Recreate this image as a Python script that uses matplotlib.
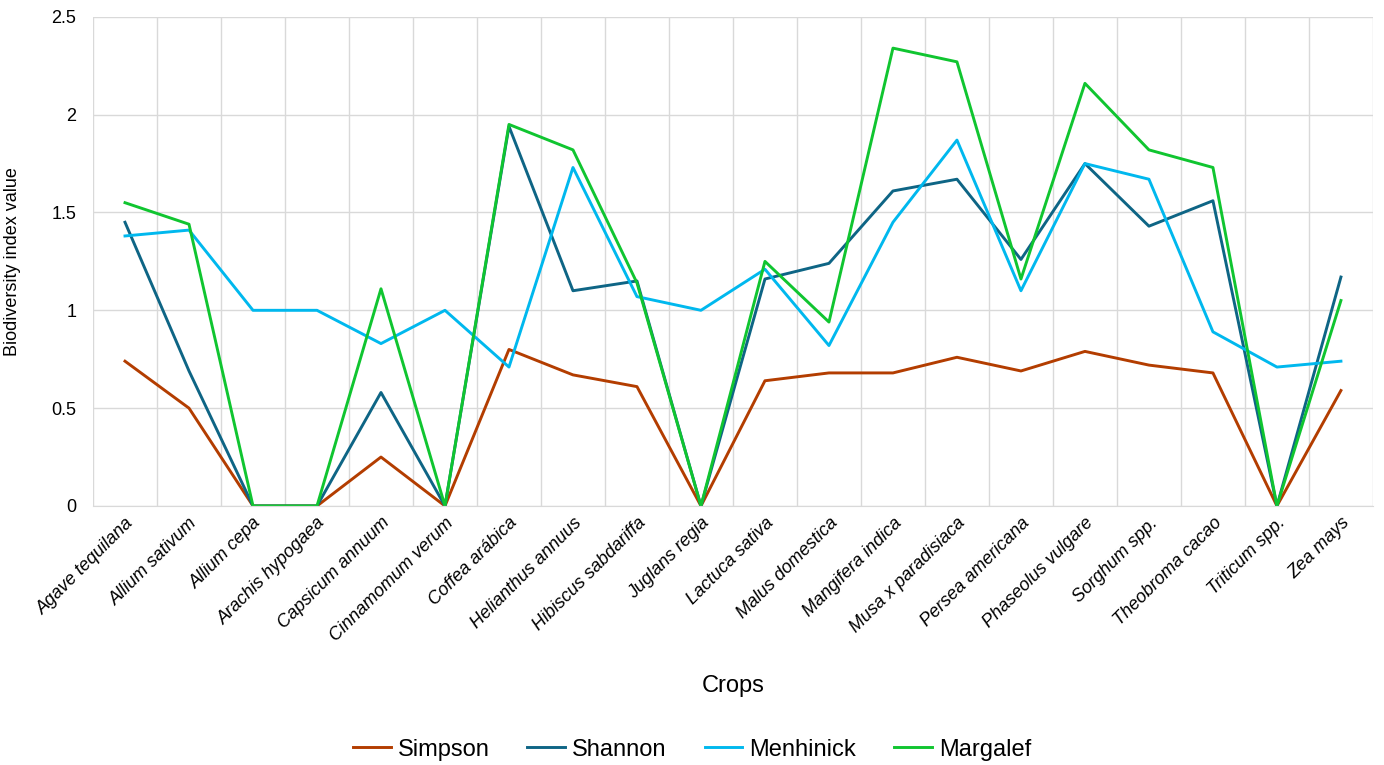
import numpy as np
import matplotlib
matplotlib.use("Agg")
import matplotlib.pyplot as plt
from matplotlib.transforms import ScaledTranslation

plt.rcParams['font.family'] = ['Liberation Sans', 'DejaVu Sans']

# crops and index values
crops = ["Agave tequilana", "Allium sativum", "Allium cepa", "Arachis hypogaea",
         "Capsicum annuum", "Cinnamomum verum", "Coffea arábica", "Helianthus annuus",
         "Hibiscus sabdariffa", "Juglans regia", "Lactuca sativa", "Malus domestica",
         "Mangifera indica", "Musa x paradisiaca", "Persea americana", "Phaseolus vulgare",
         "Sorghum spp.", "Theobroma cacao", "Triticum spp.", "Zea mays"]

simpson = [0.74, 0.50, 0, 0, 0.25, 0, 0.80, 0.67, 0.61, 0, 0.64, 0.68,
           0.68, 0.76, 0.69, 0.79, 0.72, 0.68, 0, 0.59]
shannon = [1.45, 0.69, 0, 0, 0.58, 0, 1.94, 1.10, 1.15, 0, 1.16, 1.24,
           1.61, 1.67, 1.26, 1.75, 1.43, 1.56, 0, 1.17]
menhinick = [1.38, 1.41, 1.0, 1.0, 0.83, 1.0, 0.71, 1.73, 1.07, 1.0, 1.21, 0.82,
             1.45, 1.87, 1.10, 1.75, 1.67, 0.89, 0.71, 0.74]
margalef = [1.55, 1.44, 0, 0, 1.11, 0, 1.95, 1.82, 1.14, 0, 1.25, 0.94,
            2.34, 2.27, 1.16, 2.16, 1.82, 1.73, 0, 1.05]

fig = plt.figure(figsize=(13.84, 7.65), dpi=100)
ax = fig.add_axes([0.0672, 0.3386, 0.9248, 0.6394])

x = np.arange(len(crops))
ax.plot(x, simpson, color='#B33D00', lw=2.1, label='Simpson')
ax.plot(x, shannon, color='#0E6585', lw=2.1, label='Shannon')
ax.plot(x, menhinick, color='#00B8EE', lw=2.1, label='Menhinick')
ax.plot(x, margalef, color='#10C530', lw=2.1, label='Margalef')

ax.set_xlim(-0.5, len(crops) - 0.5)
ax.set_ylim(0, 2.5)
ax.set_yticks([0, 0.5, 1, 1.5, 2, 2.5])
ax.set_yticklabels(['0', '0.5', '1', '1.5', '2', '2.5'], fontsize=13)
ax.set_xticks(x)
ax.set_xticklabels(crops, rotation=45, ha='right', rotation_mode='anchor',
                   fontsize=13, style='italic')
# shift the rotated labels a little to the left, as in the source chart
shift = ScaledTranslation(-8 / 72, 0, fig.dpi_scale_trans)
for lbl in ax.get_xticklabels():
    lbl.set_transform(lbl.get_transform() + shift)
ax.set_xticks(np.arange(-0.5, len(crops), 1), minor=True)
ax.tick_params(axis='both', which='both', length=0)
ax.tick_params(axis='x', pad=6)
ax.tick_params(axis='y', pad=12)
ax.grid(True, axis='y', color='#D9D9D9', lw=1)
ax.grid(True, axis='x', which='minor', color='#D9D9D9', lw=1)
ax.grid(False, axis='x', which='major')
for s in ['top', 'right', 'left']:
    ax.spines[s].set_visible(False)
ax.spines['bottom'].set_color('#D9D9D9')
ax.set_axisbelow(True)

ax.set_xlabel('Crops', fontsize=17, labelpad=22)
ax.set_ylabel('Biodiversity index value', fontsize=13, labelpad=22)

fig.legend(loc='lower center', ncol=4, frameon=False, fontsize=17,
           bbox_to_anchor=(0.5, -0.022), handlelength=1.6, handletextpad=0.3,
           columnspacing=1.6)

fig.savefig('out.png', dpi=100)
